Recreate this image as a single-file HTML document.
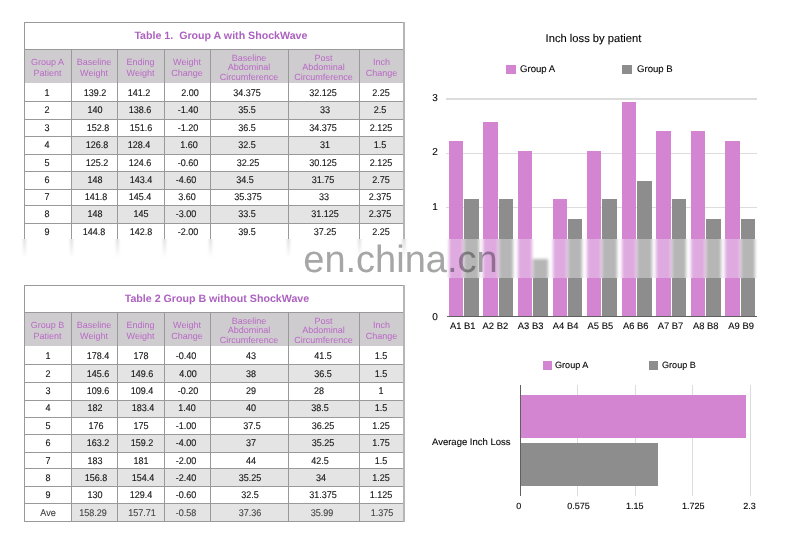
<!DOCTYPE html><html><head><meta charset="utf-8"><style>
html,body{margin:0;padding:0;background:#fff;}
body{width:800px;height:542px;position:relative;overflow:hidden;font-family:"Liberation Sans", sans-serif;text-rendering:geometricPrecision;}
.ab{position:absolute;}
.t{position:absolute;white-space:nowrap;text-align:center;} .k{-webkit-text-stroke:0.25px currentColor;}
</style></head><body>
<div class="ab" style="left:24.00px;top:49.00px;width:380.00px;height:34.00px;background:#cfcccf;"></div>
<div class="ab" style="left:71.00px;top:101.00px;width:333.00px;height:18.00px;background:#e4e4e4;"></div>
<div class="ab" style="left:71.00px;top:136.00px;width:333.00px;height:18.00px;background:#e4e4e4;"></div>
<div class="ab" style="left:71.00px;top:171.00px;width:333.00px;height:18.00px;background:#e4e4e4;"></div>
<div class="ab" style="left:71.00px;top:205.00px;width:333.00px;height:18.00px;background:#e4e4e4;"></div>
<div class="ab" style="left:24.00px;top:22.00px;width:381.00px;height:1.00px;background:#999999;"></div>
<div class="ab" style="left:24.00px;top:49.00px;width:381.00px;height:1.00px;background:#999999;"></div>
<div class="ab" style="left:24.00px;top:101.00px;width:381.00px;height:1.00px;background:#999999;"></div>
<div class="ab" style="left:24.00px;top:119.00px;width:381.00px;height:1.00px;background:#999999;"></div>
<div class="ab" style="left:24.00px;top:136.00px;width:381.00px;height:1.00px;background:#999999;"></div>
<div class="ab" style="left:24.00px;top:154.00px;width:381.00px;height:1.00px;background:#999999;"></div>
<div class="ab" style="left:24.00px;top:171.00px;width:381.00px;height:1.00px;background:#999999;"></div>
<div class="ab" style="left:24.00px;top:189.00px;width:381.00px;height:1.00px;background:#999999;"></div>
<div class="ab" style="left:24.00px;top:205.00px;width:381.00px;height:1.00px;background:#999999;"></div>
<div class="ab" style="left:24.00px;top:223.00px;width:381.00px;height:1.00px;background:#999999;"></div>
<div class="ab" style="left:24.00px;top:22.00px;width:1.00px;height:219.00px;background:#999999;"></div>
<div class="ab" style="left:403.00px;top:22.00px;width:2.00px;height:219.00px;background:#b5b5b5;"></div>
<div class="ab" style="left:71.00px;top:49.00px;width:1.00px;height:192.00px;background:#999999;"></div>
<div class="ab" style="left:117.00px;top:49.00px;width:1.00px;height:192.00px;background:#999999;"></div>
<div class="ab" style="left:164.00px;top:49.00px;width:1.00px;height:192.00px;background:#999999;"></div>
<div class="ab" style="left:210.00px;top:49.00px;width:1.00px;height:192.00px;background:#999999;"></div>
<div class="ab" style="left:288.00px;top:49.00px;width:1.00px;height:192.00px;background:#999999;"></div>
<div class="ab" style="left:359.00px;top:49.00px;width:1.00px;height:192.00px;background:#999999;"></div>
<div class="t" style="left:134.40px;top:29.81px;width:300.00px;height:12.78px;line-height:12.78px;font-size:10.65px;color:#ad62c0;font-weight:bold;text-align:left;">Table 1.&nbsp; Group A with ShockWave</div>
<div class="t" style="left:24.00px;top:56.80px;width:47.00px;line-height:11.20px;font-size:9px;color:#b96ac6;">Group A<br>Patient</div>
<div class="t" style="left:71.00px;top:56.80px;width:46.00px;line-height:11.20px;font-size:9px;color:#b96ac6;">Baseline<br>Weight</div>
<div class="t" style="left:117.00px;top:56.80px;width:47.00px;line-height:11.20px;font-size:9px;color:#b96ac6;">Ending<br>Weight</div>
<div class="t" style="left:164.00px;top:56.80px;width:46.00px;line-height:11.20px;font-size:9px;color:#b96ac6;">Weight<br>Change</div>
<div class="t" style="left:210.00px;top:53.52px;width:78.00px;line-height:9.65px;font-size:9px;color:#b96ac6;">Baseline<br>Abdominal<br>Circumference</div>
<div class="t" style="left:288.00px;top:53.52px;width:71.00px;line-height:9.65px;font-size:9px;color:#b96ac6;">Post<br>Abdominal<br>Circumference</div>
<div class="t" style="left:359.00px;top:56.80px;width:45.00px;line-height:11.20px;font-size:9px;color:#b96ac6;">Inch<br>Change</div>
<div class="t" style="left:17.30px;top:87.73px;width:60.00px;height:11.64px;line-height:11.64px;font-size:9.70px;color:#111;font-weight:normal;text-align:center;transform:scaleX(0.93);-webkit-text-stroke:0.12px #111;">1</div>
<div class="t" style="left:65.30px;top:87.73px;width:60.00px;height:11.64px;line-height:11.64px;font-size:9.70px;color:#111;font-weight:normal;text-align:center;transform:scaleX(0.93);-webkit-text-stroke:0.12px #111;">139.2</div>
<div class="t" style="left:109.35px;top:87.73px;width:60.00px;height:11.64px;line-height:11.64px;font-size:9.70px;color:#111;font-weight:normal;text-align:center;transform:scaleX(0.93);-webkit-text-stroke:0.12px #111;">141.2</div>
<div class="t" style="left:160.00px;top:87.73px;width:60.00px;height:11.64px;line-height:11.64px;font-size:9.70px;color:#111;font-weight:normal;text-align:center;transform:scaleX(0.93);-webkit-text-stroke:0.12px #111;">2.00</div>
<div class="t" style="left:216.90px;top:87.73px;width:60.00px;height:11.64px;line-height:11.64px;font-size:9.70px;color:#111;font-weight:normal;text-align:center;transform:scaleX(0.93);-webkit-text-stroke:0.12px #111;">34.375</div>
<div class="t" style="left:292.50px;top:87.73px;width:60.00px;height:11.64px;line-height:11.64px;font-size:9.70px;color:#111;font-weight:normal;text-align:center;transform:scaleX(0.93);-webkit-text-stroke:0.12px #111;">32.125</div>
<div class="t" style="left:350.70px;top:87.73px;width:60.00px;height:11.64px;line-height:11.64px;font-size:9.70px;color:#111;font-weight:normal;text-align:center;transform:scaleX(0.93);-webkit-text-stroke:0.12px #111;">2.25</div>
<div class="t" style="left:17.30px;top:104.93px;width:60.00px;height:11.64px;line-height:11.64px;font-size:9.70px;color:#111;font-weight:normal;text-align:center;transform:scaleX(0.93);-webkit-text-stroke:0.12px #111;">2</div>
<div class="t" style="left:65.00px;top:104.93px;width:60.00px;height:11.64px;line-height:11.64px;font-size:9.70px;color:#111;font-weight:normal;text-align:center;transform:scaleX(0.93);-webkit-text-stroke:0.12px #111;">140</div>
<div class="t" style="left:110.00px;top:104.93px;width:60.00px;height:11.64px;line-height:11.64px;font-size:9.70px;color:#111;font-weight:normal;text-align:center;transform:scaleX(0.93);-webkit-text-stroke:0.12px #111;">138.6</div>
<div class="t" style="left:158.20px;top:104.93px;width:60.00px;height:11.64px;line-height:11.64px;font-size:9.70px;color:#111;font-weight:normal;text-align:center;transform:scaleX(0.93);-webkit-text-stroke:0.12px #111;">-1.40</div>
<div class="t" style="left:217.10px;top:104.93px;width:60.00px;height:11.64px;line-height:11.64px;font-size:9.70px;color:#111;font-weight:normal;text-align:center;transform:scaleX(0.93);-webkit-text-stroke:0.12px #111;">35.5</div>
<div class="t" style="left:295.20px;top:104.93px;width:60.00px;height:11.64px;line-height:11.64px;font-size:9.70px;color:#111;font-weight:normal;text-align:center;transform:scaleX(0.93);-webkit-text-stroke:0.12px #111;">33</div>
<div class="t" style="left:349.80px;top:104.93px;width:60.00px;height:11.64px;line-height:11.64px;font-size:9.70px;color:#111;font-weight:normal;text-align:center;transform:scaleX(0.93);-webkit-text-stroke:0.12px #111;">2.5</div>
<div class="t" style="left:17.30px;top:122.58px;width:60.00px;height:11.64px;line-height:11.64px;font-size:9.70px;color:#111;font-weight:normal;text-align:center;transform:scaleX(0.93);-webkit-text-stroke:0.12px #111;">3</div>
<div class="t" style="left:68.45px;top:122.58px;width:60.00px;height:11.64px;line-height:11.64px;font-size:9.70px;color:#111;font-weight:normal;text-align:center;transform:scaleX(0.93);-webkit-text-stroke:0.12px #111;">152.8</div>
<div class="t" style="left:110.50px;top:122.58px;width:60.00px;height:11.64px;line-height:11.64px;font-size:9.70px;color:#111;font-weight:normal;text-align:center;transform:scaleX(0.93);-webkit-text-stroke:0.12px #111;">151.6</div>
<div class="t" style="left:158.20px;top:122.58px;width:60.00px;height:11.64px;line-height:11.64px;font-size:9.70px;color:#111;font-weight:normal;text-align:center;transform:scaleX(0.93);-webkit-text-stroke:0.12px #111;">-1.20</div>
<div class="t" style="left:217.40px;top:122.58px;width:60.00px;height:11.64px;line-height:11.64px;font-size:9.70px;color:#111;font-weight:normal;text-align:center;transform:scaleX(0.93);-webkit-text-stroke:0.12px #111;">36.5</div>
<div class="t" style="left:292.50px;top:122.58px;width:60.00px;height:11.64px;line-height:11.64px;font-size:9.70px;color:#111;font-weight:normal;text-align:center;transform:scaleX(0.93);-webkit-text-stroke:0.12px #111;">34.375</div>
<div class="t" style="left:350.80px;top:122.58px;width:60.00px;height:11.64px;line-height:11.64px;font-size:9.70px;color:#111;font-weight:normal;text-align:center;transform:scaleX(0.93);-webkit-text-stroke:0.12px #111;">2.125</div>
<div class="t" style="left:17.30px;top:139.88px;width:60.00px;height:11.64px;line-height:11.64px;font-size:9.70px;color:#111;font-weight:normal;text-align:center;transform:scaleX(0.93);-webkit-text-stroke:0.12px #111;">4</div>
<div class="t" style="left:66.85px;top:139.88px;width:60.00px;height:11.64px;line-height:11.64px;font-size:9.70px;color:#111;font-weight:normal;text-align:center;transform:scaleX(0.93);-webkit-text-stroke:0.12px #111;">126.8</div>
<div class="t" style="left:109.45px;top:139.88px;width:60.00px;height:11.64px;line-height:11.64px;font-size:9.70px;color:#111;font-weight:normal;text-align:center;transform:scaleX(0.93);-webkit-text-stroke:0.12px #111;">128.4</div>
<div class="t" style="left:159.25px;top:139.88px;width:60.00px;height:11.64px;line-height:11.64px;font-size:9.70px;color:#111;font-weight:normal;text-align:center;transform:scaleX(0.93);-webkit-text-stroke:0.12px #111;">1.60</div>
<div class="t" style="left:217.40px;top:139.88px;width:60.00px;height:11.64px;line-height:11.64px;font-size:9.70px;color:#111;font-weight:normal;text-align:center;transform:scaleX(0.93);-webkit-text-stroke:0.12px #111;">32.5</div>
<div class="t" style="left:294.60px;top:139.88px;width:60.00px;height:11.64px;line-height:11.64px;font-size:9.70px;color:#111;font-weight:normal;text-align:center;transform:scaleX(0.93);-webkit-text-stroke:0.12px #111;">31</div>
<div class="t" style="left:350.10px;top:139.88px;width:60.00px;height:11.64px;line-height:11.64px;font-size:9.70px;color:#111;font-weight:normal;text-align:center;transform:scaleX(0.93);-webkit-text-stroke:0.12px #111;">1.5</div>
<div class="t" style="left:17.30px;top:157.58px;width:60.00px;height:11.64px;line-height:11.64px;font-size:9.70px;color:#111;font-weight:normal;text-align:center;transform:scaleX(0.93);-webkit-text-stroke:0.12px #111;">5</div>
<div class="t" style="left:66.85px;top:157.58px;width:60.00px;height:11.64px;line-height:11.64px;font-size:9.70px;color:#111;font-weight:normal;text-align:center;transform:scaleX(0.93);-webkit-text-stroke:0.12px #111;">125.2</div>
<div class="t" style="left:110.30px;top:157.58px;width:60.00px;height:11.64px;line-height:11.64px;font-size:9.70px;color:#111;font-weight:normal;text-align:center;transform:scaleX(0.93);-webkit-text-stroke:0.12px #111;">124.6</div>
<div class="t" style="left:157.95px;top:157.58px;width:60.00px;height:11.64px;line-height:11.64px;font-size:9.70px;color:#111;font-weight:normal;text-align:center;transform:scaleX(0.93);-webkit-text-stroke:0.12px #111;">-0.60</div>
<div class="t" style="left:217.85px;top:157.58px;width:60.00px;height:11.64px;line-height:11.64px;font-size:9.70px;color:#111;font-weight:normal;text-align:center;transform:scaleX(0.93);-webkit-text-stroke:0.12px #111;">32.25</div>
<div class="t" style="left:292.50px;top:157.58px;width:60.00px;height:11.64px;line-height:11.64px;font-size:9.70px;color:#111;font-weight:normal;text-align:center;transform:scaleX(0.93);-webkit-text-stroke:0.12px #111;">30.125</div>
<div class="t" style="left:350.80px;top:157.58px;width:60.00px;height:11.64px;line-height:11.64px;font-size:9.70px;color:#111;font-weight:normal;text-align:center;transform:scaleX(0.93);-webkit-text-stroke:0.12px #111;">2.125</div>
<div class="t" style="left:17.30px;top:174.88px;width:60.00px;height:11.64px;line-height:11.64px;font-size:9.70px;color:#111;font-weight:normal;text-align:center;transform:scaleX(0.93);-webkit-text-stroke:0.12px #111;">6</div>
<div class="t" style="left:64.70px;top:174.88px;width:60.00px;height:11.64px;line-height:11.64px;font-size:9.70px;color:#111;font-weight:normal;text-align:center;transform:scaleX(0.93);-webkit-text-stroke:0.12px #111;">148</div>
<div class="t" style="left:110.90px;top:174.88px;width:60.00px;height:11.64px;line-height:11.64px;font-size:9.70px;color:#111;font-weight:normal;text-align:center;transform:scaleX(0.93);-webkit-text-stroke:0.12px #111;">143.4</div>
<div class="t" style="left:156.25px;top:174.88px;width:60.00px;height:11.64px;line-height:11.64px;font-size:9.70px;color:#111;font-weight:normal;text-align:center;transform:scaleX(0.93);-webkit-text-stroke:0.12px #111;">-4.60</div>
<div class="t" style="left:215.40px;top:174.88px;width:60.00px;height:11.64px;line-height:11.64px;font-size:9.70px;color:#111;font-weight:normal;text-align:center;transform:scaleX(0.93);-webkit-text-stroke:0.12px #111;">34.5</div>
<div class="t" style="left:293.30px;top:174.88px;width:60.00px;height:11.64px;line-height:11.64px;font-size:9.70px;color:#111;font-weight:normal;text-align:center;transform:scaleX(0.93);-webkit-text-stroke:0.12px #111;">31.75</div>
<div class="t" style="left:350.70px;top:174.88px;width:60.00px;height:11.64px;line-height:11.64px;font-size:9.70px;color:#111;font-weight:normal;text-align:center;transform:scaleX(0.93);-webkit-text-stroke:0.12px #111;">2.75</div>
<div class="t" style="left:17.30px;top:191.88px;width:60.00px;height:11.64px;line-height:11.64px;font-size:9.70px;color:#111;font-weight:normal;text-align:center;transform:scaleX(0.93);-webkit-text-stroke:0.12px #111;">7</div>
<div class="t" style="left:66.10px;top:191.88px;width:60.00px;height:11.64px;line-height:11.64px;font-size:9.70px;color:#111;font-weight:normal;text-align:center;transform:scaleX(0.93);-webkit-text-stroke:0.12px #111;">141.8</div>
<div class="t" style="left:110.30px;top:191.88px;width:60.00px;height:11.64px;line-height:11.64px;font-size:9.70px;color:#111;font-weight:normal;text-align:center;transform:scaleX(0.93);-webkit-text-stroke:0.12px #111;">145.4</div>
<div class="t" style="left:157.25px;top:191.88px;width:60.00px;height:11.64px;line-height:11.64px;font-size:9.70px;color:#111;font-weight:normal;text-align:center;transform:scaleX(0.93);-webkit-text-stroke:0.12px #111;">3.60</div>
<div class="t" style="left:217.80px;top:191.88px;width:60.00px;height:11.64px;line-height:11.64px;font-size:9.70px;color:#111;font-weight:normal;text-align:center;transform:scaleX(0.93);-webkit-text-stroke:0.12px #111;">35.375</div>
<div class="t" style="left:293.70px;top:191.88px;width:60.00px;height:11.64px;line-height:11.64px;font-size:9.70px;color:#111;font-weight:normal;text-align:center;transform:scaleX(0.93);-webkit-text-stroke:0.12px #111;">33</div>
<div class="t" style="left:350.40px;top:191.88px;width:60.00px;height:11.64px;line-height:11.64px;font-size:9.70px;color:#111;font-weight:normal;text-align:center;transform:scaleX(0.93);-webkit-text-stroke:0.12px #111;">2.375</div>
<div class="t" style="left:17.30px;top:209.48px;width:60.00px;height:11.64px;line-height:11.64px;font-size:9.70px;color:#111;font-weight:normal;text-align:center;transform:scaleX(0.93);-webkit-text-stroke:0.12px #111;">8</div>
<div class="t" style="left:64.70px;top:209.48px;width:60.00px;height:11.64px;line-height:11.64px;font-size:9.70px;color:#111;font-weight:normal;text-align:center;transform:scaleX(0.93);-webkit-text-stroke:0.12px #111;">148</div>
<div class="t" style="left:111.20px;top:209.48px;width:60.00px;height:11.64px;line-height:11.64px;font-size:9.70px;color:#111;font-weight:normal;text-align:center;transform:scaleX(0.93);-webkit-text-stroke:0.12px #111;">145</div>
<div class="t" style="left:156.25px;top:209.48px;width:60.00px;height:11.64px;line-height:11.64px;font-size:9.70px;color:#111;font-weight:normal;text-align:center;transform:scaleX(0.93);-webkit-text-stroke:0.12px #111;">-3.00</div>
<div class="t" style="left:217.40px;top:209.48px;width:60.00px;height:11.64px;line-height:11.64px;font-size:9.70px;color:#111;font-weight:normal;text-align:center;transform:scaleX(0.93);-webkit-text-stroke:0.12px #111;">33.5</div>
<div class="t" style="left:295.00px;top:209.48px;width:60.00px;height:11.64px;line-height:11.64px;font-size:9.70px;color:#111;font-weight:normal;text-align:center;transform:scaleX(0.93);-webkit-text-stroke:0.12px #111;">31.125</div>
<div class="t" style="left:350.20px;top:209.48px;width:60.00px;height:11.64px;line-height:11.64px;font-size:9.70px;color:#111;font-weight:normal;text-align:center;transform:scaleX(0.93);-webkit-text-stroke:0.12px #111;">2.375</div>
<div class="t" style="left:17.30px;top:226.93px;width:60.00px;height:11.64px;line-height:11.64px;font-size:9.70px;color:#111;font-weight:normal;text-align:center;transform:scaleX(0.93);-webkit-text-stroke:0.12px #111;">9</div>
<div class="t" style="left:63.75px;top:226.93px;width:60.00px;height:11.64px;line-height:11.64px;font-size:9.70px;color:#111;font-weight:normal;text-align:center;transform:scaleX(0.93);-webkit-text-stroke:0.12px #111;">144.8</div>
<div class="t" style="left:110.90px;top:226.93px;width:60.00px;height:11.64px;line-height:11.64px;font-size:9.70px;color:#111;font-weight:normal;text-align:center;transform:scaleX(0.93);-webkit-text-stroke:0.12px #111;">142.8</div>
<div class="t" style="left:157.95px;top:226.93px;width:60.00px;height:11.64px;line-height:11.64px;font-size:9.70px;color:#111;font-weight:normal;text-align:center;transform:scaleX(0.93);-webkit-text-stroke:0.12px #111;">-2.00</div>
<div class="t" style="left:217.40px;top:226.93px;width:60.00px;height:11.64px;line-height:11.64px;font-size:9.70px;color:#111;font-weight:normal;text-align:center;transform:scaleX(0.93);-webkit-text-stroke:0.12px #111;">39.5</div>
<div class="t" style="left:295.00px;top:226.93px;width:60.00px;height:11.64px;line-height:11.64px;font-size:9.70px;color:#111;font-weight:normal;text-align:center;transform:scaleX(0.93);-webkit-text-stroke:0.12px #111;">37.25</div>
<div class="t" style="left:350.70px;top:226.93px;width:60.00px;height:11.64px;line-height:11.64px;font-size:9.70px;color:#111;font-weight:normal;text-align:center;transform:scaleX(0.93);-webkit-text-stroke:0.12px #111;">2.25</div>
<div class="ab" style="left:24.00px;top:312.00px;width:380.00px;height:34.00px;background:#cfcccf;"></div>
<div class="ab" style="left:71.00px;top:364.00px;width:333.00px;height:18.00px;background:#e4e4e4;"></div>
<div class="ab" style="left:71.00px;top:400.00px;width:333.00px;height:17.00px;background:#e4e4e4;"></div>
<div class="ab" style="left:71.00px;top:434.00px;width:333.00px;height:18.00px;background:#e4e4e4;"></div>
<div class="ab" style="left:71.00px;top:468.00px;width:333.00px;height:18.00px;background:#e4e4e4;"></div>
<div class="ab" style="left:71.00px;top:503.00px;width:333.00px;height:18.00px;background:#e4e4e4;"></div>
<div class="ab" style="left:24.00px;top:285.00px;width:381.00px;height:1.00px;background:#999999;"></div>
<div class="ab" style="left:24.00px;top:312.00px;width:381.00px;height:1.00px;background:#999999;"></div>
<div class="ab" style="left:24.00px;top:364.00px;width:381.00px;height:1.00px;background:#999999;"></div>
<div class="ab" style="left:24.00px;top:382.00px;width:381.00px;height:1.00px;background:#999999;"></div>
<div class="ab" style="left:24.00px;top:400.00px;width:381.00px;height:1.00px;background:#999999;"></div>
<div class="ab" style="left:24.00px;top:417.00px;width:381.00px;height:1.00px;background:#999999;"></div>
<div class="ab" style="left:24.00px;top:434.00px;width:381.00px;height:1.00px;background:#999999;"></div>
<div class="ab" style="left:24.00px;top:452.00px;width:381.00px;height:1.00px;background:#999999;"></div>
<div class="ab" style="left:24.00px;top:468.00px;width:381.00px;height:1.00px;background:#999999;"></div>
<div class="ab" style="left:24.00px;top:486.00px;width:381.00px;height:1.00px;background:#999999;"></div>
<div class="ab" style="left:24.00px;top:503.00px;width:381.00px;height:1.00px;background:#999999;"></div>
<div class="ab" style="left:24.00px;top:521.00px;width:381.00px;height:1.00px;background:#999999;"></div>
<div class="ab" style="left:24.00px;top:285.00px;width:1.00px;height:237.00px;background:#999999;"></div>
<div class="ab" style="left:403.00px;top:285.00px;width:2.00px;height:237.00px;background:#b5b5b5;"></div>
<div class="ab" style="left:71.00px;top:312.00px;width:1.00px;height:210.00px;background:#999999;"></div>
<div class="ab" style="left:117.00px;top:312.00px;width:1.00px;height:210.00px;background:#999999;"></div>
<div class="ab" style="left:164.00px;top:312.00px;width:1.00px;height:210.00px;background:#999999;"></div>
<div class="ab" style="left:210.00px;top:312.00px;width:1.00px;height:210.00px;background:#999999;"></div>
<div class="ab" style="left:288.00px;top:312.00px;width:1.00px;height:210.00px;background:#999999;"></div>
<div class="ab" style="left:359.00px;top:312.00px;width:1.00px;height:210.00px;background:#999999;"></div>
<div class="t" style="left:124.70px;top:293.11px;width:300.00px;height:12.78px;line-height:12.78px;font-size:10.65px;color:#ad62c0;font-weight:bold;text-align:left;">Table 2 Group B without ShockWave</div>
<div class="t" style="left:24.00px;top:319.80px;width:47.00px;line-height:11.20px;font-size:9px;color:#b96ac6;">Group B<br>Patient</div>
<div class="t" style="left:71.00px;top:319.80px;width:46.00px;line-height:11.20px;font-size:9px;color:#b96ac6;">Baseline<br>Weight</div>
<div class="t" style="left:117.00px;top:319.80px;width:47.00px;line-height:11.20px;font-size:9px;color:#b96ac6;">Ending<br>Weight</div>
<div class="t" style="left:164.00px;top:319.80px;width:46.00px;line-height:11.20px;font-size:9px;color:#b96ac6;">Weight<br>Change</div>
<div class="t" style="left:210.00px;top:316.52px;width:78.00px;line-height:9.65px;font-size:9px;color:#b96ac6;">Baseline<br>Abdominal<br>Circumference</div>
<div class="t" style="left:288.00px;top:316.52px;width:71.00px;line-height:9.65px;font-size:9px;color:#b96ac6;">Post<br>Abdominal<br>Circumference</div>
<div class="t" style="left:359.00px;top:319.80px;width:45.00px;line-height:11.20px;font-size:9px;color:#b96ac6;">Inch<br>Change</div>
<div class="t" style="left:17.50px;top:351.48px;width:60.00px;height:11.64px;line-height:11.64px;font-size:9.70px;color:#111;font-weight:normal;text-align:center;transform:scaleX(0.93);-webkit-text-stroke:0.12px #111;">1</div>
<div class="t" style="left:67.60px;top:351.48px;width:60.00px;height:11.64px;line-height:11.64px;font-size:9.70px;color:#111;font-weight:normal;text-align:center;transform:scaleX(0.93);-webkit-text-stroke:0.12px #111;">178.4</div>
<div class="t" style="left:110.55px;top:351.48px;width:60.00px;height:11.64px;line-height:11.64px;font-size:9.70px;color:#111;font-weight:normal;text-align:center;transform:scaleX(0.93);-webkit-text-stroke:0.12px #111;">178</div>
<div class="t" style="left:156.25px;top:351.48px;width:60.00px;height:11.64px;line-height:11.64px;font-size:9.70px;color:#111;font-weight:normal;text-align:center;transform:scaleX(0.93);-webkit-text-stroke:0.12px #111;">-0.40</div>
<div class="t" style="left:221.00px;top:351.48px;width:60.00px;height:11.64px;line-height:11.64px;font-size:9.70px;color:#111;font-weight:normal;text-align:center;transform:scaleX(0.93);-webkit-text-stroke:0.12px #111;">43</div>
<div class="t" style="left:292.50px;top:351.48px;width:60.00px;height:11.64px;line-height:11.64px;font-size:9.70px;color:#111;font-weight:normal;text-align:center;transform:scaleX(0.93);-webkit-text-stroke:0.12px #111;">41.5</div>
<div class="t" style="left:351.00px;top:351.48px;width:60.00px;height:11.64px;line-height:11.64px;font-size:9.70px;color:#111;font-weight:normal;text-align:center;transform:scaleX(0.93);-webkit-text-stroke:0.12px #111;">1.5</div>
<div class="t" style="left:17.50px;top:368.58px;width:60.00px;height:11.64px;line-height:11.64px;font-size:9.70px;color:#111;font-weight:normal;text-align:center;transform:scaleX(0.93);-webkit-text-stroke:0.12px #111;">2</div>
<div class="t" style="left:68.45px;top:368.58px;width:60.00px;height:11.64px;line-height:11.64px;font-size:9.70px;color:#111;font-weight:normal;text-align:center;transform:scaleX(0.93);-webkit-text-stroke:0.12px #111;">145.6</div>
<div class="t" style="left:112.30px;top:368.58px;width:60.00px;height:11.64px;line-height:11.64px;font-size:9.70px;color:#111;font-weight:normal;text-align:center;transform:scaleX(0.93);-webkit-text-stroke:0.12px #111;">149.6</div>
<div class="t" style="left:158.40px;top:368.58px;width:60.00px;height:11.64px;line-height:11.64px;font-size:9.70px;color:#111;font-weight:normal;text-align:center;transform:scaleX(0.93);-webkit-text-stroke:0.12px #111;">4.00</div>
<div class="t" style="left:221.00px;top:368.58px;width:60.00px;height:11.64px;line-height:11.64px;font-size:9.70px;color:#111;font-weight:normal;text-align:center;transform:scaleX(0.93);-webkit-text-stroke:0.12px #111;">38</div>
<div class="t" style="left:292.50px;top:368.58px;width:60.00px;height:11.64px;line-height:11.64px;font-size:9.70px;color:#111;font-weight:normal;text-align:center;transform:scaleX(0.93);-webkit-text-stroke:0.12px #111;">36.5</div>
<div class="t" style="left:351.00px;top:368.58px;width:60.00px;height:11.64px;line-height:11.64px;font-size:9.70px;color:#111;font-weight:normal;text-align:center;transform:scaleX(0.93);-webkit-text-stroke:0.12px #111;">1.5</div>
<div class="t" style="left:17.50px;top:386.08px;width:60.00px;height:11.64px;line-height:11.64px;font-size:9.70px;color:#111;font-weight:normal;text-align:center;transform:scaleX(0.93);-webkit-text-stroke:0.12px #111;">3</div>
<div class="t" style="left:68.45px;top:386.08px;width:60.00px;height:11.64px;line-height:11.64px;font-size:9.70px;color:#111;font-weight:normal;text-align:center;transform:scaleX(0.93);-webkit-text-stroke:0.12px #111;">109.6</div>
<div class="t" style="left:112.30px;top:386.08px;width:60.00px;height:11.64px;line-height:11.64px;font-size:9.70px;color:#111;font-weight:normal;text-align:center;transform:scaleX(0.93);-webkit-text-stroke:0.12px #111;">109.4</div>
<div class="t" style="left:158.00px;top:386.08px;width:60.00px;height:11.64px;line-height:11.64px;font-size:9.70px;color:#111;font-weight:normal;text-align:center;transform:scaleX(0.93);-webkit-text-stroke:0.12px #111;">-0.20</div>
<div class="t" style="left:221.20px;top:386.08px;width:60.00px;height:11.64px;line-height:11.64px;font-size:9.70px;color:#111;font-weight:normal;text-align:center;transform:scaleX(0.93);-webkit-text-stroke:0.12px #111;">29</div>
<div class="t" style="left:288.90px;top:386.08px;width:60.00px;height:11.64px;line-height:11.64px;font-size:9.70px;color:#111;font-weight:normal;text-align:center;transform:scaleX(0.93);-webkit-text-stroke:0.12px #111;">28</div>
<div class="t" style="left:351.00px;top:386.08px;width:60.00px;height:11.64px;line-height:11.64px;font-size:9.70px;color:#111;font-weight:normal;text-align:center;transform:scaleX(0.93);-webkit-text-stroke:0.12px #111;">1</div>
<div class="t" style="left:17.50px;top:402.88px;width:60.00px;height:11.64px;line-height:11.64px;font-size:9.70px;color:#111;font-weight:normal;text-align:center;transform:scaleX(0.93);-webkit-text-stroke:0.12px #111;">4</div>
<div class="t" style="left:65.00px;top:402.88px;width:60.00px;height:11.64px;line-height:11.64px;font-size:9.70px;color:#111;font-weight:normal;text-align:center;transform:scaleX(0.93);-webkit-text-stroke:0.12px #111;">182</div>
<div class="t" style="left:112.90px;top:402.88px;width:60.00px;height:11.64px;line-height:11.64px;font-size:9.70px;color:#111;font-weight:normal;text-align:center;transform:scaleX(0.93);-webkit-text-stroke:0.12px #111;">183.4</div>
<div class="t" style="left:157.25px;top:402.88px;width:60.00px;height:11.64px;line-height:11.64px;font-size:9.70px;color:#111;font-weight:normal;text-align:center;transform:scaleX(0.93);-webkit-text-stroke:0.12px #111;">1.40</div>
<div class="t" style="left:221.00px;top:402.88px;width:60.00px;height:11.64px;line-height:11.64px;font-size:9.70px;color:#111;font-weight:normal;text-align:center;transform:scaleX(0.93);-webkit-text-stroke:0.12px #111;">40</div>
<div class="t" style="left:290.30px;top:402.88px;width:60.00px;height:11.64px;line-height:11.64px;font-size:9.70px;color:#111;font-weight:normal;text-align:center;transform:scaleX(0.93);-webkit-text-stroke:0.12px #111;">38.5</div>
<div class="t" style="left:351.00px;top:402.88px;width:60.00px;height:11.64px;line-height:11.64px;font-size:9.70px;color:#111;font-weight:normal;text-align:center;transform:scaleX(0.93);-webkit-text-stroke:0.12px #111;">1.5</div>
<div class="t" style="left:17.50px;top:420.68px;width:60.00px;height:11.64px;line-height:11.64px;font-size:9.70px;color:#111;font-weight:normal;text-align:center;transform:scaleX(0.93);-webkit-text-stroke:0.12px #111;">5</div>
<div class="t" style="left:66.15px;top:420.68px;width:60.00px;height:11.64px;line-height:11.64px;font-size:9.70px;color:#111;font-weight:normal;text-align:center;transform:scaleX(0.93);-webkit-text-stroke:0.12px #111;">176</div>
<div class="t" style="left:111.20px;top:420.68px;width:60.00px;height:11.64px;line-height:11.64px;font-size:9.70px;color:#111;font-weight:normal;text-align:center;transform:scaleX(0.93);-webkit-text-stroke:0.12px #111;">175</div>
<div class="t" style="left:156.25px;top:420.68px;width:60.00px;height:11.64px;line-height:11.64px;font-size:9.70px;color:#111;font-weight:normal;text-align:center;transform:scaleX(0.93);-webkit-text-stroke:0.12px #111;">-1.00</div>
<div class="t" style="left:222.40px;top:420.68px;width:60.00px;height:11.64px;line-height:11.64px;font-size:9.70px;color:#111;font-weight:normal;text-align:center;transform:scaleX(0.93);-webkit-text-stroke:0.12px #111;">37.5</div>
<div class="t" style="left:292.80px;top:420.68px;width:60.00px;height:11.64px;line-height:11.64px;font-size:9.70px;color:#111;font-weight:normal;text-align:center;transform:scaleX(0.93);-webkit-text-stroke:0.12px #111;">36.25</div>
<div class="t" style="left:351.20px;top:420.68px;width:60.00px;height:11.64px;line-height:11.64px;font-size:9.70px;color:#111;font-weight:normal;text-align:center;transform:scaleX(0.93);-webkit-text-stroke:0.12px #111;">1.25</div>
<div class="t" style="left:17.50px;top:438.38px;width:60.00px;height:11.64px;line-height:11.64px;font-size:9.70px;color:#111;font-weight:normal;text-align:center;transform:scaleX(0.93);-webkit-text-stroke:0.12px #111;">6</div>
<div class="t" style="left:68.45px;top:438.38px;width:60.00px;height:11.64px;line-height:11.64px;font-size:9.70px;color:#111;font-weight:normal;text-align:center;transform:scaleX(0.93);-webkit-text-stroke:0.12px #111;">163.2</div>
<div class="t" style="left:112.30px;top:438.38px;width:60.00px;height:11.64px;line-height:11.64px;font-size:9.70px;color:#111;font-weight:normal;text-align:center;transform:scaleX(0.93);-webkit-text-stroke:0.12px #111;">159.2</div>
<div class="t" style="left:156.25px;top:438.38px;width:60.00px;height:11.64px;line-height:11.64px;font-size:9.70px;color:#111;font-weight:normal;text-align:center;transform:scaleX(0.93);-webkit-text-stroke:0.12px #111;">-4.00</div>
<div class="t" style="left:221.00px;top:438.38px;width:60.00px;height:11.64px;line-height:11.64px;font-size:9.70px;color:#111;font-weight:normal;text-align:center;transform:scaleX(0.93);-webkit-text-stroke:0.12px #111;">37</div>
<div class="t" style="left:292.80px;top:438.38px;width:60.00px;height:11.64px;line-height:11.64px;font-size:9.70px;color:#111;font-weight:normal;text-align:center;transform:scaleX(0.93);-webkit-text-stroke:0.12px #111;">35.25</div>
<div class="t" style="left:351.20px;top:438.38px;width:60.00px;height:11.64px;line-height:11.64px;font-size:9.70px;color:#111;font-weight:normal;text-align:center;transform:scaleX(0.93);-webkit-text-stroke:0.12px #111;">1.75</div>
<div class="t" style="left:17.50px;top:455.88px;width:60.00px;height:11.64px;line-height:11.64px;font-size:9.70px;color:#111;font-weight:normal;text-align:center;transform:scaleX(0.93);-webkit-text-stroke:0.12px #111;">7</div>
<div class="t" style="left:65.00px;top:455.88px;width:60.00px;height:11.64px;line-height:11.64px;font-size:9.70px;color:#111;font-weight:normal;text-align:center;transform:scaleX(0.93);-webkit-text-stroke:0.12px #111;">183</div>
<div class="t" style="left:111.20px;top:455.88px;width:60.00px;height:11.64px;line-height:11.64px;font-size:9.70px;color:#111;font-weight:normal;text-align:center;transform:scaleX(0.93);-webkit-text-stroke:0.12px #111;">181</div>
<div class="t" style="left:156.25px;top:455.88px;width:60.00px;height:11.64px;line-height:11.64px;font-size:9.70px;color:#111;font-weight:normal;text-align:center;transform:scaleX(0.93);-webkit-text-stroke:0.12px #111;">-2.00</div>
<div class="t" style="left:221.00px;top:455.88px;width:60.00px;height:11.64px;line-height:11.64px;font-size:9.70px;color:#111;font-weight:normal;text-align:center;transform:scaleX(0.93);-webkit-text-stroke:0.12px #111;">44</div>
<div class="t" style="left:290.30px;top:455.88px;width:60.00px;height:11.64px;line-height:11.64px;font-size:9.70px;color:#111;font-weight:normal;text-align:center;transform:scaleX(0.93);-webkit-text-stroke:0.12px #111;">42.5</div>
<div class="t" style="left:351.00px;top:455.88px;width:60.00px;height:11.64px;line-height:11.64px;font-size:9.70px;color:#111;font-weight:normal;text-align:center;transform:scaleX(0.93);-webkit-text-stroke:0.12px #111;">1.5</div>
<div class="t" style="left:17.50px;top:472.98px;width:60.00px;height:11.64px;line-height:11.64px;font-size:9.70px;color:#111;font-weight:normal;text-align:center;transform:scaleX(0.93);-webkit-text-stroke:0.12px #111;">8</div>
<div class="t" style="left:66.10px;top:472.98px;width:60.00px;height:11.64px;line-height:11.64px;font-size:9.70px;color:#111;font-weight:normal;text-align:center;transform:scaleX(0.93);-webkit-text-stroke:0.12px #111;">156.8</div>
<div class="t" style="left:112.90px;top:472.98px;width:60.00px;height:11.64px;line-height:11.64px;font-size:9.70px;color:#111;font-weight:normal;text-align:center;transform:scaleX(0.93);-webkit-text-stroke:0.12px #111;">154.4</div>
<div class="t" style="left:156.25px;top:472.98px;width:60.00px;height:11.64px;line-height:11.64px;font-size:9.70px;color:#111;font-weight:normal;text-align:center;transform:scaleX(0.93);-webkit-text-stroke:0.12px #111;">-2.40</div>
<div class="t" style="left:220.00px;top:472.98px;width:60.00px;height:11.64px;line-height:11.64px;font-size:9.70px;color:#111;font-weight:normal;text-align:center;transform:scaleX(0.93);-webkit-text-stroke:0.12px #111;">35.25</div>
<div class="t" style="left:291.30px;top:472.98px;width:60.00px;height:11.64px;line-height:11.64px;font-size:9.70px;color:#111;font-weight:normal;text-align:center;transform:scaleX(0.93);-webkit-text-stroke:0.12px #111;">34</div>
<div class="t" style="left:351.20px;top:472.98px;width:60.00px;height:11.64px;line-height:11.64px;font-size:9.70px;color:#111;font-weight:normal;text-align:center;transform:scaleX(0.93);-webkit-text-stroke:0.12px #111;">1.25</div>
<div class="t" style="left:17.50px;top:490.28px;width:60.00px;height:11.64px;line-height:11.64px;font-size:9.70px;color:#111;font-weight:normal;text-align:center;transform:scaleX(0.93);-webkit-text-stroke:0.12px #111;">9</div>
<div class="t" style="left:65.00px;top:490.28px;width:60.00px;height:11.64px;line-height:11.64px;font-size:9.70px;color:#111;font-weight:normal;text-align:center;transform:scaleX(0.93);-webkit-text-stroke:0.12px #111;">130</div>
<div class="t" style="left:110.50px;top:490.28px;width:60.00px;height:11.64px;line-height:11.64px;font-size:9.70px;color:#111;font-weight:normal;text-align:center;transform:scaleX(0.93);-webkit-text-stroke:0.12px #111;">129.4</div>
<div class="t" style="left:156.25px;top:490.28px;width:60.00px;height:11.64px;line-height:11.64px;font-size:9.70px;color:#111;font-weight:normal;text-align:center;transform:scaleX(0.93);-webkit-text-stroke:0.12px #111;">-0.60</div>
<div class="t" style="left:220.00px;top:490.28px;width:60.00px;height:11.64px;line-height:11.64px;font-size:9.70px;color:#111;font-weight:normal;text-align:center;transform:scaleX(0.93);-webkit-text-stroke:0.12px #111;">32.5</div>
<div class="t" style="left:292.50px;top:490.28px;width:60.00px;height:11.64px;line-height:11.64px;font-size:9.70px;color:#111;font-weight:normal;text-align:center;transform:scaleX(0.93);-webkit-text-stroke:0.12px #111;">31.375</div>
<div class="t" style="left:350.80px;top:490.28px;width:60.00px;height:11.64px;line-height:11.64px;font-size:9.70px;color:#111;font-weight:normal;text-align:center;transform:scaleX(0.93);-webkit-text-stroke:0.12px #111;">1.125</div>
<div class="t" style="left:17.50px;top:508.48px;width:60.00px;height:11.64px;line-height:11.64px;font-size:9.70px;color:#444;font-weight:normal;text-align:center;transform:scaleX(0.93);-webkit-text-stroke:0.12px #444;">Ave</div>
<div class="t" style="left:63.20px;top:508.48px;width:60.00px;height:11.64px;line-height:11.64px;font-size:9.70px;color:#444;font-weight:normal;text-align:center;transform:scaleX(0.93);-webkit-text-stroke:0.12px #444;">158.29</div>
<div class="t" style="left:111.50px;top:508.48px;width:60.00px;height:11.64px;line-height:11.64px;font-size:9.70px;color:#444;font-weight:normal;text-align:center;transform:scaleX(0.93);-webkit-text-stroke:0.12px #444;">157.71</div>
<div class="t" style="left:156.00px;top:508.48px;width:60.00px;height:11.64px;line-height:11.64px;font-size:9.70px;color:#444;font-weight:normal;text-align:center;transform:scaleX(0.93);-webkit-text-stroke:0.12px #444;">-0.58</div>
<div class="t" style="left:219.50px;top:508.48px;width:60.00px;height:11.64px;line-height:11.64px;font-size:9.70px;color:#444;font-weight:normal;text-align:center;transform:scaleX(0.93);-webkit-text-stroke:0.12px #444;">37.36</div>
<div class="t" style="left:291.50px;top:508.48px;width:60.00px;height:11.64px;line-height:11.64px;font-size:9.70px;color:#444;font-weight:normal;text-align:center;transform:scaleX(0.93);-webkit-text-stroke:0.12px #444;">35.99</div>
<div class="t" style="left:351.80px;top:508.48px;width:60.00px;height:11.64px;line-height:11.64px;font-size:9.70px;color:#444;font-weight:normal;text-align:center;transform:scaleX(0.93);-webkit-text-stroke:0.12px #444;">1.375</div>
<div class="t" style="left:498.50px;top:32.78px;width:190.00px;height:13.44px;line-height:13.44px;font-size:11.20px;color:#000;font-weight:normal;text-align:center;-webkit-text-stroke:0.1px #000;">Inch loss by patient</div>
<div class="ab" style="left:506.00px;top:64.50px;width:9.50px;height:9.50px;background:#d485d2;"></div>
<div class="t" style="left:520.00px;top:63.74px;width:60.00px;height:11.52px;line-height:11.52px;font-size:9.60px;color:#000;font-weight:normal;text-align:left;-webkit-text-stroke:0.1px #000;">Group A</div>
<div class="ab" style="left:622.00px;top:64.50px;width:9.50px;height:9.50px;background:#8d8d8d;"></div>
<div class="t" style="left:637.00px;top:63.74px;width:60.00px;height:11.52px;line-height:11.52px;font-size:9.60px;color:#000;font-weight:normal;text-align:left;-webkit-text-stroke:0.1px #000;">Group B</div>
<div class="ab" style="left:446.00px;top:98.40px;width:311.00px;height:1.20px;background:#dcdcdc;"></div>
<div class="ab" style="left:446.00px;top:152.70px;width:311.00px;height:1.20px;background:#dcdcdc;"></div>
<div class="ab" style="left:446.00px;top:206.90px;width:311.00px;height:1.20px;background:#dcdcdc;"></div>
<div class="t" style="left:425.00px;top:93.00px;width:20.00px;height:12.00px;line-height:12.00px;font-size:10.00px;color:#000;font-weight:normal;text-align:center;-webkit-text-stroke:0.1px #000;">3</div>
<div class="t" style="left:425.00px;top:147.30px;width:20.00px;height:12.00px;line-height:12.00px;font-size:10.00px;color:#000;font-weight:normal;text-align:center;-webkit-text-stroke:0.1px #000;">2</div>
<div class="t" style="left:425.00px;top:201.50px;width:20.00px;height:12.00px;line-height:12.00px;font-size:10.00px;color:#000;font-weight:normal;text-align:center;-webkit-text-stroke:0.1px #000;">1</div>
<div class="t" style="left:425.00px;top:311.50px;width:20.00px;height:12.00px;line-height:12.00px;font-size:10.00px;color:#000;font-weight:normal;text-align:center;-webkit-text-stroke:0.1px #000;">0</div>
<div class="ab" style="left:448.80px;top:141.00px;width:14.30px;height:174.80px;background:#d485d2;"></div>
<div class="ab" style="left:464.10px;top:199.30px;width:14.50px;height:116.50px;background:#8d8d8d;"></div>
<div class="ab" style="left:483.38px;top:122.30px;width:14.30px;height:193.50px;background:#d485d2;"></div>
<div class="ab" style="left:498.68px;top:199.30px;width:14.50px;height:116.50px;background:#8d8d8d;"></div>
<div class="ab" style="left:517.96px;top:151.00px;width:14.30px;height:164.80px;background:#d485d2;"></div>
<div class="ab" style="left:533.26px;top:259.20px;width:14.50px;height:56.60px;background:#8d8d8d;"></div>
<div class="ab" style="left:552.54px;top:199.40px;width:14.30px;height:116.40px;background:#d485d2;"></div>
<div class="ab" style="left:567.84px;top:219.40px;width:14.50px;height:96.40px;background:#8d8d8d;"></div>
<div class="ab" style="left:587.12px;top:151.30px;width:14.30px;height:164.50px;background:#d485d2;"></div>
<div class="ab" style="left:602.42px;top:199.40px;width:14.50px;height:116.40px;background:#8d8d8d;"></div>
<div class="ab" style="left:621.70px;top:102.30px;width:14.30px;height:213.50px;background:#d485d2;"></div>
<div class="ab" style="left:637.00px;top:180.60px;width:14.50px;height:135.20px;background:#8d8d8d;"></div>
<div class="ab" style="left:656.28px;top:131.10px;width:14.30px;height:184.70px;background:#d485d2;"></div>
<div class="ab" style="left:671.58px;top:199.40px;width:14.50px;height:116.40px;background:#8d8d8d;"></div>
<div class="ab" style="left:690.86px;top:131.10px;width:14.30px;height:184.70px;background:#d485d2;"></div>
<div class="ab" style="left:706.16px;top:219.40px;width:14.50px;height:96.40px;background:#8d8d8d;"></div>
<div class="ab" style="left:725.44px;top:141.30px;width:14.30px;height:174.50px;background:#d485d2;"></div>
<div class="ab" style="left:740.74px;top:219.40px;width:14.50px;height:96.40px;background:#8d8d8d;"></div>
<div class="ab" style="left:447.00px;top:315.50px;width:310.00px;height:1.20px;background:#606060;"></div>
<div class="t" style="left:442.75px;top:320.36px;width:40.00px;height:11.28px;line-height:11.28px;font-size:9.40px;color:#000;font-weight:normal;text-align:center;-webkit-text-stroke:0.1px #000;">A1 B1</div>
<div class="t" style="left:475.40px;top:320.36px;width:40.00px;height:11.28px;line-height:11.28px;font-size:9.40px;color:#000;font-weight:normal;text-align:center;-webkit-text-stroke:0.1px #000;">A2 B2</div>
<div class="t" style="left:510.60px;top:320.36px;width:40.00px;height:11.28px;line-height:11.28px;font-size:9.40px;color:#000;font-weight:normal;text-align:center;-webkit-text-stroke:0.1px #000;">A3 B3</div>
<div class="t" style="left:545.60px;top:320.36px;width:40.00px;height:11.28px;line-height:11.28px;font-size:9.40px;color:#000;font-weight:normal;text-align:center;-webkit-text-stroke:0.1px #000;">A4 B4</div>
<div class="t" style="left:580.40px;top:320.36px;width:40.00px;height:11.28px;line-height:11.28px;font-size:9.40px;color:#000;font-weight:normal;text-align:center;-webkit-text-stroke:0.1px #000;">A5 B5</div>
<div class="t" style="left:615.75px;top:320.36px;width:40.00px;height:11.28px;line-height:11.28px;font-size:9.40px;color:#000;font-weight:normal;text-align:center;-webkit-text-stroke:0.1px #000;">A6 B6</div>
<div class="t" style="left:650.50px;top:320.36px;width:40.00px;height:11.28px;line-height:11.28px;font-size:9.40px;color:#000;font-weight:normal;text-align:center;-webkit-text-stroke:0.1px #000;">A7 B7</div>
<div class="t" style="left:685.75px;top:320.36px;width:40.00px;height:11.28px;line-height:11.28px;font-size:9.40px;color:#000;font-weight:normal;text-align:center;-webkit-text-stroke:0.1px #000;">A8 B8</div>
<div class="t" style="left:721.10px;top:320.36px;width:40.00px;height:11.28px;line-height:11.28px;font-size:9.40px;color:#000;font-weight:normal;text-align:center;-webkit-text-stroke:0.1px #000;">A9 B9</div>
<div class="ab" style="left:543.00px;top:361.00px;width:9.00px;height:9.00px;background:#d485d2;"></div>
<div class="t" style="left:555.00px;top:360.04px;width:60.00px;height:10.92px;line-height:10.92px;font-size:9.10px;color:#000;font-weight:normal;text-align:left;-webkit-text-stroke:0.1px #000;">Group A</div>
<div class="ab" style="left:649.00px;top:361.00px;width:9.00px;height:9.00px;background:#8d8d8d;"></div>
<div class="t" style="left:662.00px;top:360.04px;width:60.00px;height:10.92px;line-height:10.92px;font-size:9.10px;color:#000;font-weight:normal;text-align:left;-webkit-text-stroke:0.1px #000;">Group B</div>
<div class="ab" style="left:577.00px;top:384.50px;width:1.00px;height:111.50px;background:#dcdcdc;"></div>
<div class="ab" style="left:634.50px;top:384.50px;width:1.00px;height:111.50px;background:#dcdcdc;"></div>
<div class="ab" style="left:691.90px;top:384.50px;width:1.00px;height:111.50px;background:#dcdcdc;"></div>
<div class="ab" style="left:750.10px;top:384.50px;width:1.00px;height:111.50px;background:#dcdcdc;"></div>
<div class="ab" style="left:521.00px;top:395.00px;width:225.00px;height:43.20px;background:#d485d2;"></div>
<div class="ab" style="left:521.00px;top:442.80px;width:137.10px;height:43.10px;background:#8d8d8d;"></div>
<div class="ab" style="left:519.60px;top:384.50px;width:1.20px;height:111.50px;background:#606060;"></div>
<div class="t" style="left:420.00px;top:437.30px;width:100.00px;height:11.40px;line-height:11.40px;font-size:9.50px;color:#000;font-weight:normal;text-align:right;width:90.5px;-webkit-text-stroke:0.1px #000;">Average Inch Loss</div>
<div class="t" style="left:498.70px;top:501.10px;width:40.00px;height:10.80px;line-height:10.80px;font-size:9.00px;color:#000;font-weight:normal;text-align:center;-webkit-text-stroke:0.1px #000;">0</div>
<div class="t" style="left:558.50px;top:501.10px;width:40.00px;height:10.80px;line-height:10.80px;font-size:9.00px;color:#000;font-weight:normal;text-align:center;-webkit-text-stroke:0.1px #000;">0.575</div>
<div class="t" style="left:614.70px;top:501.10px;width:40.00px;height:10.80px;line-height:10.80px;font-size:9.00px;color:#000;font-weight:normal;text-align:center;-webkit-text-stroke:0.1px #000;">1.15</div>
<div class="t" style="left:673.30px;top:501.10px;width:40.00px;height:10.80px;line-height:10.80px;font-size:9.00px;color:#000;font-weight:normal;text-align:center;-webkit-text-stroke:0.1px #000;">1.725</div>
<div class="t" style="left:729.40px;top:501.10px;width:40.00px;height:10.80px;line-height:10.80px;font-size:9.00px;color:#000;font-weight:normal;text-align:center;-webkit-text-stroke:0.1px #000;">2.3</div>
<div class="ab" style="left:0;top:238.50px;width:800px;height:39.50px;overflow:hidden;background:#fff;">
<div class="ab" style="left:0;top:-238.50px;width:800px;height:542px;filter:blur(1.6px);">
<div class="ab" style="left:448.80px;top:141.00px;width:14.30px;height:174.80px;background:#dfaadf;"></div>
<div class="ab" style="left:464.10px;top:199.30px;width:14.50px;height:116.50px;background:#b6b6b6;"></div>
<div class="ab" style="left:483.38px;top:122.30px;width:14.30px;height:193.50px;background:#dfaadf;"></div>
<div class="ab" style="left:498.68px;top:199.30px;width:14.50px;height:116.50px;background:#b6b6b6;"></div>
<div class="ab" style="left:517.96px;top:151.00px;width:14.30px;height:164.80px;background:#dfaadf;"></div>
<div class="ab" style="left:533.26px;top:259.20px;width:14.50px;height:56.60px;background:#b6b6b6;"></div>
<div class="ab" style="left:552.54px;top:199.40px;width:14.30px;height:116.40px;background:#dfaadf;"></div>
<div class="ab" style="left:567.84px;top:219.40px;width:14.50px;height:96.40px;background:#b6b6b6;"></div>
<div class="ab" style="left:587.12px;top:151.30px;width:14.30px;height:164.50px;background:#dfaadf;"></div>
<div class="ab" style="left:602.42px;top:199.40px;width:14.50px;height:116.40px;background:#b6b6b6;"></div>
<div class="ab" style="left:621.70px;top:102.30px;width:14.30px;height:213.50px;background:#dfaadf;"></div>
<div class="ab" style="left:637.00px;top:180.60px;width:14.50px;height:135.20px;background:#b6b6b6;"></div>
<div class="ab" style="left:656.28px;top:131.10px;width:14.30px;height:184.70px;background:#dfaadf;"></div>
<div class="ab" style="left:671.58px;top:199.40px;width:14.50px;height:116.40px;background:#b6b6b6;"></div>
<div class="ab" style="left:690.86px;top:131.10px;width:14.30px;height:184.70px;background:#dfaadf;"></div>
<div class="ab" style="left:706.16px;top:219.40px;width:14.50px;height:96.40px;background:#b6b6b6;"></div>
<div class="ab" style="left:725.44px;top:141.30px;width:14.30px;height:174.50px;background:#dfaadf;"></div>
<div class="ab" style="left:740.74px;top:219.40px;width:14.50px;height:96.40px;background:#b6b6b6;"></div>
<div class="ab" style="left:24px;top:236px;width:1px;height:22px;background:linear-gradient(#8e8e8e,rgba(142,142,142,0));"></div>
<div class="ab" style="left:71px;top:236px;width:1px;height:22px;background:linear-gradient(#8e8e8e,rgba(142,142,142,0));"></div>
<div class="ab" style="left:117px;top:236px;width:1px;height:22px;background:linear-gradient(#8e8e8e,rgba(142,142,142,0));"></div>
<div class="ab" style="left:164px;top:236px;width:1px;height:22px;background:linear-gradient(#8e8e8e,rgba(142,142,142,0));"></div>
<div class="ab" style="left:210px;top:236px;width:1px;height:22px;background:linear-gradient(#8e8e8e,rgba(142,142,142,0));"></div>
<div class="ab" style="left:288px;top:236px;width:1px;height:22px;background:linear-gradient(#8e8e8e,rgba(142,142,142,0));"></div>
<div class="ab" style="left:359px;top:236px;width:1px;height:22px;background:linear-gradient(#8e8e8e,rgba(142,142,142,0));"></div>
<div class="ab" style="left:403px;top:236px;width:2px;height:22px;background:linear-gradient(#b5b5b5,rgba(181,181,181,0));"></div>
</div></div>
<div class="t" style="left:303.3px;top:237px;height:46px;line-height:46px;font-size:38px;color:#a6a6a6;mix-blend-mode:multiply;text-align:left;">en.china.cn</div>
</body></html>
